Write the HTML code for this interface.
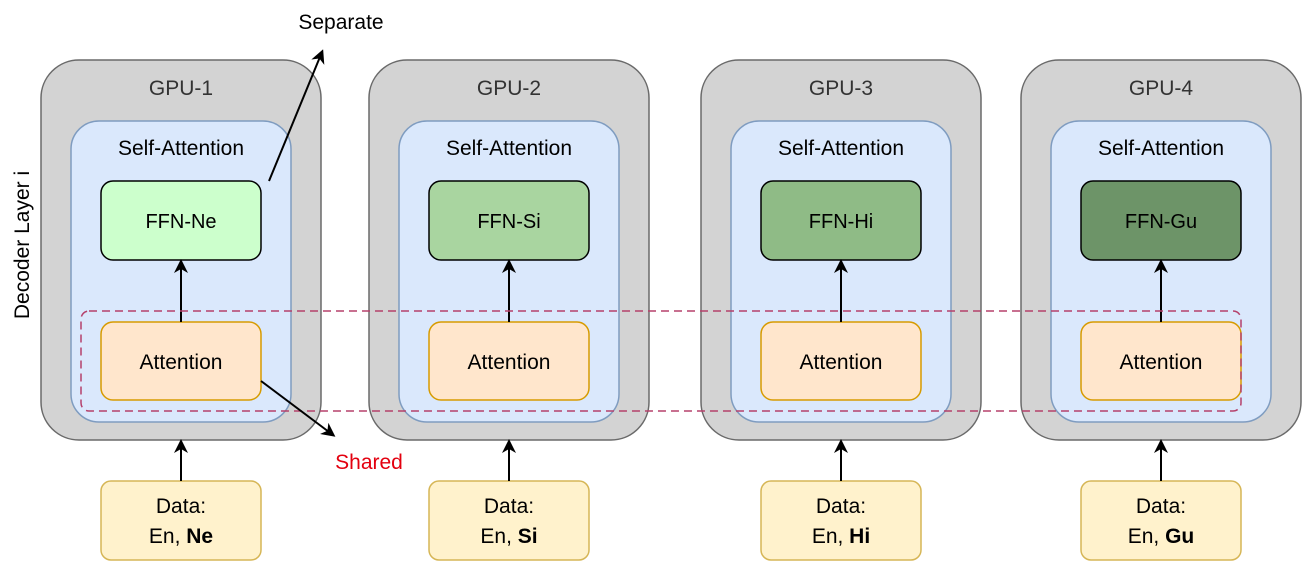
<!DOCTYPE html>
<html><head><meta charset="utf-8"><style>body{margin:0;background:#fff}svg{display:block}text{font-family:"Liberation Sans",Arial,sans-serif}</style></head><body>
<svg width="1302" height="562" viewBox="0 0 1302 562" xmlns="http://www.w3.org/2000/svg">
<defs><marker id="a" markerWidth="14" markerHeight="14" refX="11" refY="7" orient="auto" markerUnits="userSpaceOnUse"><path d="M0,0 L14,7 L0,14 L4,7 Z" fill="#000"/></marker></defs>
<text x="29" y="245" font-size="21" text-anchor="middle" transform="rotate(-90 29 245)">Decoder Layer i</text>
<g transform="translate(41,0)">
<rect x="0" y="60" width="280" height="380" rx="38" fill="#d3d3d3" stroke="#6a6a6a" stroke-width="1.5"/>
<text x="140" y="95" font-size="21" text-anchor="middle" fill="#333">GPU-1</text>
<rect x="30" y="121" width="220" height="301" rx="28" fill="#dae8fc" stroke="#7f9cc0" stroke-width="1.5"/>
<text x="140" y="155" font-size="21" text-anchor="middle">Self-Attention</text>
<rect x="60" y="181" width="160" height="79" rx="12" fill="#ccffcc" stroke="#000" stroke-width="1.5"/>
<text x="140" y="228" font-size="20" text-anchor="middle">FFN-Ne</text>
<rect x="60" y="322" width="160" height="78" rx="12" fill="#ffe6cc" stroke="#d79b00" stroke-width="1.5"/>
<text x="140" y="369" font-size="21" text-anchor="middle">Attention</text>
<line x1="140" y1="322" x2="140" y2="262" stroke="#000" stroke-width="2" marker-end="url(#a)"/>
<rect x="60" y="481" width="160" height="79" rx="10" fill="#fff2cc" stroke="#d6b656" stroke-width="1.5"/>
<text x="140" y="513" font-size="21" text-anchor="middle">Data:</text>
<text x="140" y="543" font-size="21" text-anchor="middle">En, <tspan font-weight="bold">Ne</tspan></text>
<line x1="140" y1="481" x2="140" y2="442" stroke="#000" stroke-width="2" marker-end="url(#a)"/>
</g>
<g transform="translate(369,0)">
<rect x="0" y="60" width="280" height="380" rx="38" fill="#d3d3d3" stroke="#6a6a6a" stroke-width="1.5"/>
<text x="140" y="95" font-size="21" text-anchor="middle" fill="#333">GPU-2</text>
<rect x="30" y="121" width="220" height="301" rx="28" fill="#dae8fc" stroke="#7f9cc0" stroke-width="1.5"/>
<text x="140" y="155" font-size="21" text-anchor="middle">Self-Attention</text>
<rect x="60" y="181" width="160" height="79" rx="12" fill="#a9d5a0" stroke="#000" stroke-width="1.5"/>
<text x="140" y="228" font-size="20" text-anchor="middle">FFN-Si</text>
<rect x="60" y="322" width="160" height="78" rx="12" fill="#ffe6cc" stroke="#d79b00" stroke-width="1.5"/>
<text x="140" y="369" font-size="21" text-anchor="middle">Attention</text>
<line x1="140" y1="322" x2="140" y2="262" stroke="#000" stroke-width="2" marker-end="url(#a)"/>
<rect x="60" y="481" width="160" height="79" rx="10" fill="#fff2cc" stroke="#d6b656" stroke-width="1.5"/>
<text x="140" y="513" font-size="21" text-anchor="middle">Data:</text>
<text x="140" y="543" font-size="21" text-anchor="middle">En, <tspan font-weight="bold">Si</tspan></text>
<line x1="140" y1="481" x2="140" y2="442" stroke="#000" stroke-width="2" marker-end="url(#a)"/>
</g>
<g transform="translate(701,0)">
<rect x="0" y="60" width="280" height="380" rx="38" fill="#d3d3d3" stroke="#6a6a6a" stroke-width="1.5"/>
<text x="140" y="95" font-size="21" text-anchor="middle" fill="#333">GPU-3</text>
<rect x="30" y="121" width="220" height="301" rx="28" fill="#dae8fc" stroke="#7f9cc0" stroke-width="1.5"/>
<text x="140" y="155" font-size="21" text-anchor="middle">Self-Attention</text>
<rect x="60" y="181" width="160" height="79" rx="12" fill="#8fbb86" stroke="#000" stroke-width="1.5"/>
<text x="140" y="228" font-size="20" text-anchor="middle">FFN-Hi</text>
<rect x="60" y="322" width="160" height="78" rx="12" fill="#ffe6cc" stroke="#d79b00" stroke-width="1.5"/>
<text x="140" y="369" font-size="21" text-anchor="middle">Attention</text>
<line x1="140" y1="322" x2="140" y2="262" stroke="#000" stroke-width="2" marker-end="url(#a)"/>
<rect x="60" y="481" width="160" height="79" rx="10" fill="#fff2cc" stroke="#d6b656" stroke-width="1.5"/>
<text x="140" y="513" font-size="21" text-anchor="middle">Data:</text>
<text x="140" y="543" font-size="21" text-anchor="middle">En, <tspan font-weight="bold">Hi</tspan></text>
<line x1="140" y1="481" x2="140" y2="442" stroke="#000" stroke-width="2" marker-end="url(#a)"/>
</g>
<g transform="translate(1021,0)">
<rect x="0" y="60" width="280" height="380" rx="38" fill="#d3d3d3" stroke="#6a6a6a" stroke-width="1.5"/>
<text x="140" y="95" font-size="21" text-anchor="middle" fill="#333">GPU-4</text>
<rect x="30" y="121" width="220" height="301" rx="28" fill="#dae8fc" stroke="#7f9cc0" stroke-width="1.5"/>
<text x="140" y="155" font-size="21" text-anchor="middle">Self-Attention</text>
<rect x="60" y="181" width="160" height="79" rx="12" fill="#6d9468" stroke="#000" stroke-width="1.5"/>
<text x="140" y="228" font-size="20" text-anchor="middle">FFN-Gu</text>
<rect x="60" y="322" width="160" height="78" rx="12" fill="#ffe6cc" stroke="#d79b00" stroke-width="1.5"/>
<text x="140" y="369" font-size="21" text-anchor="middle">Attention</text>
<line x1="140" y1="322" x2="140" y2="262" stroke="#000" stroke-width="2" marker-end="url(#a)"/>
<rect x="60" y="481" width="160" height="79" rx="10" fill="#fff2cc" stroke="#d6b656" stroke-width="1.5"/>
<text x="140" y="513" font-size="21" text-anchor="middle">Data:</text>
<text x="140" y="543" font-size="21" text-anchor="middle">En, <tspan font-weight="bold">Gu</tspan></text>
<line x1="140" y1="481" x2="140" y2="442" stroke="#000" stroke-width="2" marker-end="url(#a)"/>
</g>
<rect x="81" y="311" width="1160" height="100" rx="8" fill="none" stroke="#b5416b" stroke-width="1.5" stroke-dasharray="8,5"/>
<line x1="269" y1="181" x2="322" y2="52" stroke="#000" stroke-width="2" marker-end="url(#a)"/>
<text x="341" y="29" font-size="21" text-anchor="middle">Separate</text>
<line x1="261" y1="381" x2="333" y2="435" stroke="#000" stroke-width="2" marker-end="url(#a)"/>
<text x="369" y="469" font-size="21" text-anchor="middle" fill="#e3000f">Shared</text>
</svg>
</body></html>
